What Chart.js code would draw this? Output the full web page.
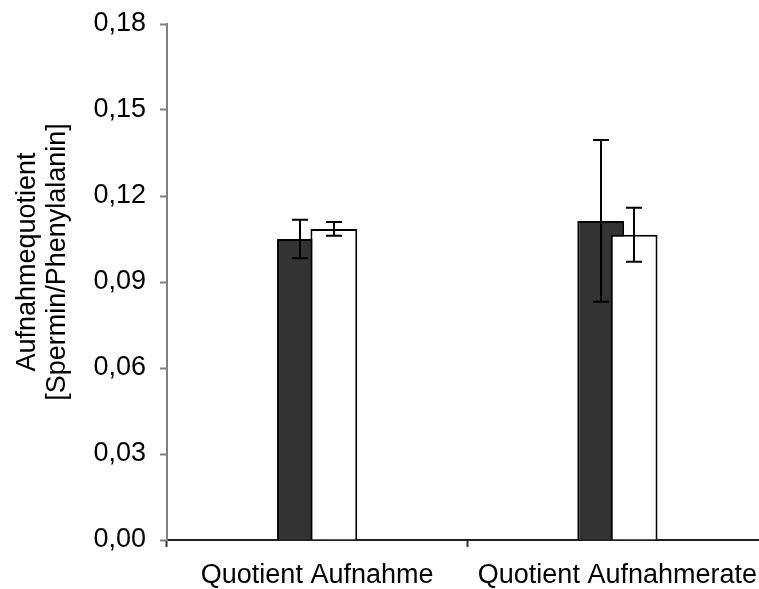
<!DOCTYPE html>
<html>
<head>
<meta charset="utf-8">
<script src="https://cdn.jsdelivr.net/npm/chart.js@4.4.1/dist/chart.umd.min.js"></script>
<style>
  html, body { margin: 0; padding: 0; background: #fff; overflow: hidden; }
  .wrap { width: 759px; height: 589px; overflow: hidden; }
</style>
</head>
<body>
<div class="wrap"><canvas id="myChart" width="769" height="589"></canvas></div>
<script>
// data
const categories = ["Quotient Aufnahme", "Quotient Aufnahmerate"];
const darkValues = [0.105, 0.1113];
const darkErrors = [0.0067, 0.0282];
const whiteValues = [0.1085, 0.1065];
const whiteErrors = [0.0024, 0.0094];
const yTickLabels = ["0,00", "0,03", "0,06", "0,09", "0,12", "0,15", "0,18"];
const yTitle = ["Aufnahmequotient", "[Spermin/Phenylalanin]"];

const errors = [darkErrors, whiteErrors];
const fontFamily = "'Liberation Sans', Arial, sans-serif";

// white bar sits over the dark one, then the error bars on top
const overlapAndErrors = {
  id: "overlapAndErrors",
  beforeDatasetsDraw(chart) {
    const ctx = chart.ctx;
    const metas = chart.getSortedVisibleDatasetMetas();
    metas.forEach((meta) => meta.controller.draw());
    const y = chart.scales.y;
    ctx.save();
    ctx.strokeStyle = "#000";
    ctx.lineWidth = 2;
    metas.forEach((meta) => {
      const errs = errors[meta.index];
      const vals = chart.data.datasets[meta.index].data;
      meta.data.forEach((bar, i) => {
        const x = Math.round(bar.x);
        const top = y.getPixelForValue(vals[i] + errs[i]);
        const bot = y.getPixelForValue(vals[i] - errs[i]);
        ctx.beginPath();
        ctx.moveTo(x, top); ctx.lineTo(x, bot);
        ctx.moveTo(x - 8, top); ctx.lineTo(x + 8, top);
        ctx.moveTo(x - 8, bot); ctx.lineTo(x + 8, bot);
        ctx.stroke();
      });
    });
    ctx.restore();
    return false;
  }
};

// y title sits a bit above the middle of the axis, like in the original
const yTitlePlugin = {
  id: "yTitlePlugin",
  afterDraw(chart) {
    const ctx = chart.ctx;
    ctx.save();
    ctx.fillStyle = "#000";
    ctx.font = "27px " + fontFamily;
    ctx.textAlign = "center";
    ctx.textBaseline = "middle";
    yTitle.forEach((line, i) => {
      ctx.save();
      ctx.translate(28 + i * 30, 262);
      ctx.rotate(-Math.PI / 2);
      ctx.fillText(line, 0, 0);
      ctx.restore();
    });
    ctx.restore();
  }
};

const font = { family: fontFamily, size: 27 };

new Chart(document.getElementById("myChart"), {
  type: "bar",
  data: {
    labels: categories,
    datasets: [
      {
        label: "dunkel",
        data: darkValues,
        backgroundColor: "#333333",
        borderColor: "#000",
        borderWidth: 2,
        categoryPercentage: 0.2226,
        barPercentage: 1.4
      },
      {
        label: "weiss",
        data: whiteValues,
        backgroundColor: "#ffffff",
        borderColor: "#000",
        borderWidth: 2,
        categoryPercentage: 0.2226,
        barPercentage: 1.4
      }
    ]
  },
  options: {
    responsive: false,
    animation: false,
    layout: { padding: { top: 24, left: 0, right: 0, bottom: 0 } },
    plugins: { legend: { display: false }, tooltip: { enabled: false } },
    scales: {
      x: {
        offset: true,
        grid: {
          offset: true,
          drawOnChartArea: false,
          tickLength: 7,
          tickColor: "#333",
          tickWidth: 2
        },
        border: { color: "#222", width: 2 },
        ticks: { color: "#000", font: font, padding: 12, maxRotation: 0, autoSkip: false },
        afterFit(scale) { scale.height = 49; }
      },
      y: {
        min: 0,
        max: 0.18,
        grid: {
          drawOnChartArea: false,
          tickLength: 7,
          tickColor: "#808080",
          tickWidth: 2
        },
        border: { color: "#808080", width: 2 },
        ticks: {
          stepSize: 0.03,
          color: "#000",
          font: font,
          padding: 14,
          callback: (value, index) => yTickLabels[index]
        },
        afterFit(scale) {
          scale.width = 167;
          scale.paddingTop = 0;
          scale.paddingBottom = 0;
        }
      }
    }
  },
  plugins: [overlapAndErrors, yTitlePlugin]
});
</script>
</body>
</html>
